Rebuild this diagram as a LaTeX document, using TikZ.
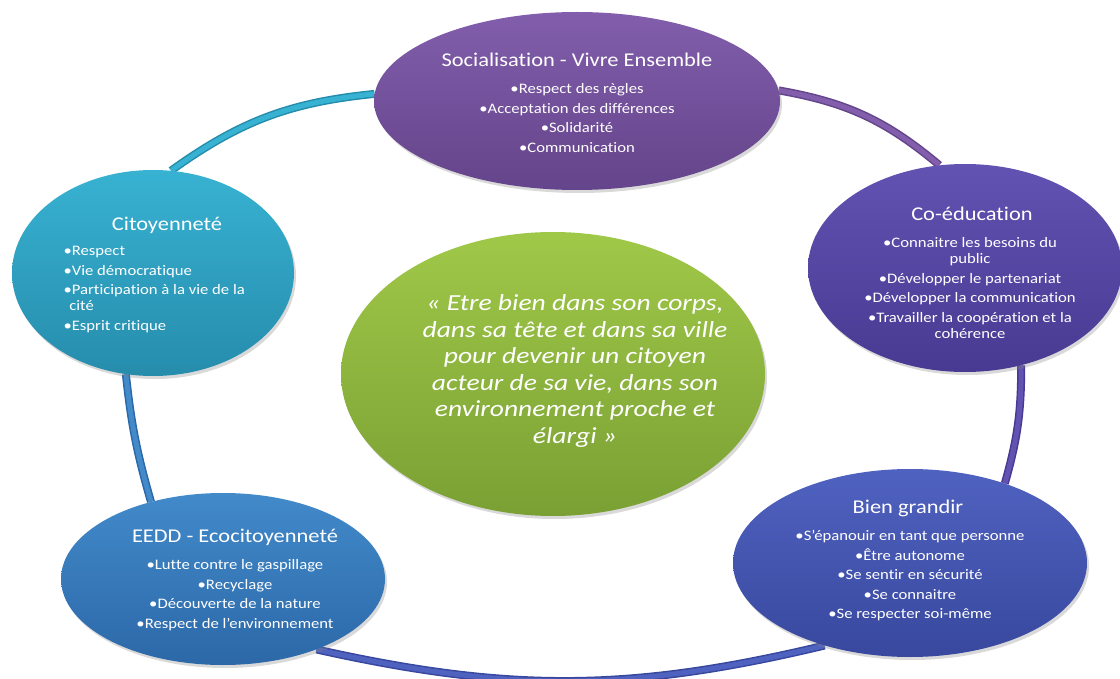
\documentclass[tikz,border=0pt]{standalone}
\usepackage{fontspec}
\setmainfont{Carlito}[FakeStretch=1.15, Ligatures=NoCommon]
\newfontfamily\quotefont{Carlito}[FakeStretch=1.2, Ligatures=NoCommon]
\usetikzlibrary{shapes.geometric,shadows,backgrounds}

\definecolor{citTop}{RGB}{56,178,210}
\definecolor{citBot}{RGB}{38,140,172}
\definecolor{socTop}{RGB}{130,94,172}
\definecolor{socBot}{RGB}{100,68,138}
\definecolor{coTop}{RGB}{98,82,178}
\definecolor{coBot}{RGB}{72,58,146}
\definecolor{bienTop}{RGB}{80,98,192}
\definecolor{bienBot}{RGB}{56,72,158}
\definecolor{eeddTop}{RGB}{66,138,202}
\definecolor{eeddBot}{RGB}{44,104,168}
\definecolor{coreTop}{RGB}{160,200,72}
\definecolor{coreBot}{RGB}{122,160,52}

\begin{document}
\begin{tikzpicture}[x=1pt, y=-1pt]
    \tikzstyle{bubble} = [ellipse, inner sep=0pt, draw=none, drop shadow={opacity=0.3, shadow xshift=2pt, shadow yshift=-3pt}]
    \tikzstyle{headline} = [text=white, font=\fontsize{19.5}{23}\selectfont]
    \tikzstyle{items} = [text=white, align=center, font=\fontsize{14.5}{19.5}\selectfont]
    \tikzstyle{ring} = [line width=1.5pt, double distance=5pt]
    \useasboundingbox (0,0) rectangle (1120,679);

    % Bubbles
    \node [bubble, minimum width=406pt, minimum height=178pt, top color=socTop, bottom color=socBot] (soc) at (577,101) {};
    \node [bubble, minimum width=282pt, minimum height=206pt, top color=citTop, bottom color=citBot] (cit) at (153,273) {};
    \node [bubble, minimum width=314pt, minimum height=208pt, top color=coTop, bottom color=coBot] (co) at (965,268) {};
    \node [bubble, minimum width=424pt, minimum height=284pt, top color=coreTop, bottom color=coreBot] (core) at (553,374) {};
    \node [bubble, minimum width=324pt, minimum height=172pt, top color=eeddTop, bottom color=eeddBot] (eedd) at (223,579) {};
    \node [bubble, minimum width=354pt, minimum height=188pt, top color=bienTop, bottom color=bienBot] (bien) at (910,563) {};

    % Ring
    \begin{pgfonlayer}{background}
        \draw [ring, draw=citBot, double=citTop] (cit.80) to[bend left=15] (soc.178);
        \draw [ring, draw=socBot, double=socTop] (soc.3) to[bend left=15] (co.104);
        \draw [ring, draw=coBot, double=coTop] (co.-60) to[bend left=8] (bien.40);
        \draw [ring, draw=bienBot, double=bienTop] (bien.224) to[bend left=13] (eedd.-37);
        \draw [ring, draw=eeddBot, double=eeddTop] (eedd.133) to[bend left=5] (cit.255);
    \end{pgfonlayer}

    % Texts
    \node [headline] (soctitle) at (577,60) {Socialisation - Vivre Ensemble};
    \node [items] (soclist) at (577,118) {•Respect des règles\\•Acceptation des différences\\•Solidarité\\•Communication};

    \node [headline] (cittitle) at (167,225) {Citoyenneté};
    \node [items, align=left, anchor=north west] (citlist) at (60,243) {•Respect\\•Vie démocratique\\•Participation à la vie de la\\[-3.5pt]\hspace*{0.4em}cité\\•Esprit critique};

    \node [headline] (cotitle) at (972,214) {Co-éducation};
    \node [items] (colist) at (970,288) {•Connaitre les besoins du\\[-3.5pt]public\\•Développer le partenariat\\•Développer la communication\\•Travailler la coopération et la\\[-3.5pt]cohérence};

    \node [text=white, align=center, font=\quotefont\fontsize{23}{26.5}\selectfont\itshape] (corequote) at (575,371) {«~Etre bien dans son corps,\\dans sa tête et dans sa ville\\pour devenir un citoyen\\acteur de sa vie, dans son\\environnement proche et\\élargi~»};

    \node [headline] (eeddtitle) at (235,537) {EEDD - Ecocitoyenneté};
    \node [items] (eeddlist) at (235,595) {•Lutte contre le gaspillage\\•Recyclage\\•Découverte de la nature\\•Respect de l'environnement};

    \node [headline] (bientitle) at (908,508) {Bien grandir};
    \node [items] (bienlist) at (910,576) {•S'épanouir en tant que personne\\•Être autonome\\•Se sentir en sécurité\\•Se connaitre\\•Se respecter soi-même};
\end{tikzpicture}
\end{document}
